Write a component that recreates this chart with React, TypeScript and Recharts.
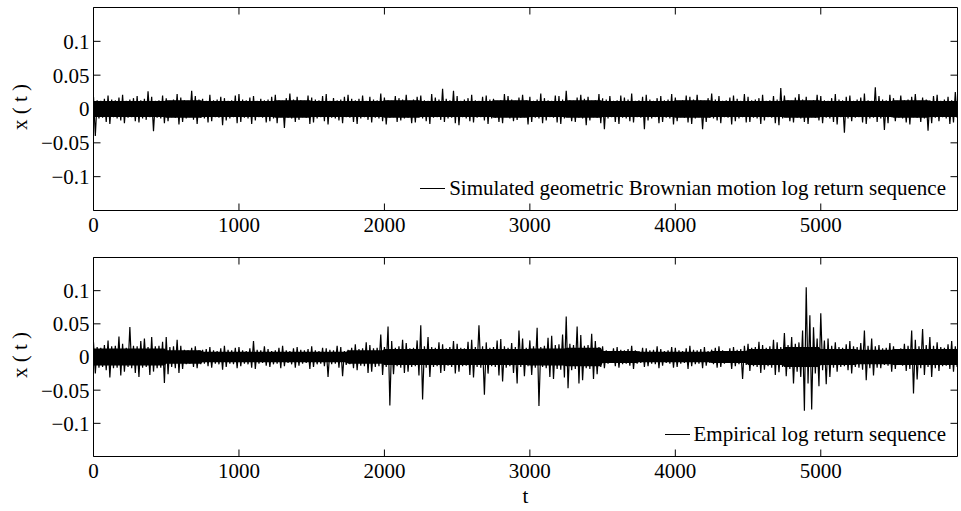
import { ComposedChart, Line, Area, XAxis, YAxis, ReferenceArea } from 'recharts';

// values in thousandths (per mille); one hi/lo pair per 25-step bin
const BIN = 25;
// dense-core half-width is read per 250-step block
const BLOCK = 250;

const X_TICKS = [0, 1000, 2000, 3000, 4000, 5000];
const Y_TICKS = [-0.1, -0.05, 0, 0.05, 0.1];
const X_MAX = 5940;

// simulated GBM log returns
const gbmHi = [
  18, 13, 12, 15, 20, 14, 13, 17, 21, 12, 14, 16, 19, 13, 15, 26, 18, 12, 13, 20,
  16, 12, 14, 22, 17, 13, 12, 27, 19, 14, 15, 12, 21, 13, 14, 18, 16, 12, 13, 20,
  22, 14, 13, 17, 19, 12, 15, 13, 14, 18, 21, 13, 12, 16, 23, 14, 18, 13, 12, 20,
  17, 14, 13, 19, 22, 12, 16, 13, 14, 18, 21, 15, 13, 15, 20, 12, 18, 14, 13, 23,
  17, 13, 12, 19, 16, 14, 21, 12, 14, 18, 20, 13, 12, 22, 17, 14, 30, 15, 13, 27,
  19, 12, 14, 16, 21, 13, 12, 18, 20, 14, 15, 12, 13, 22, 19, 14, 12, 17, 21, 13,
  18, 12, 14, 23, 16, 13, 12, 20, 19, 14, 27, 13, 12, 17, 21, 15, 18, 12, 13, 22,
  16, 14, 19, 12, 13, 20, 17, 14, 23, 12, 13, 18, 21, 14, 12, 16, 19, 13, 14, 22,
  17, 12, 13, 20, 18, 14, 21, 13, 12, 16, 23, 14, 19, 12, 13, 17, 20, 15, 12, 22,
  18, 13, 14, 16, 21, 12, 13, 19, 14, 31, 20, 13, 12, 17, 22, 14, 18, 12, 13, 21,
  19, 13, 12, 16, 22, 14, 13, 18, 20, 12, 14, 17, 23, 13, 12, 32, 19, 14, 13, 21,
  16, 12, 20, 13, 14, 18, 22, 12, 17, 14, 13, 19, 21, 12, 14, 18, 13, 25, 20, 14,
];
const gbmLo = [
  -40, -14, -13, -19, -22, -12, -14, -17, -21, -13, -12, -18, -20, -14, -16, -12, -33, -13, -14, -21,
  -18, -12, -13, -23, -19, -14, -12, -16, -22, -13, -14, -20, -18, -12, -13, -24, -17, -14, -12, -21,
  -19, -13, -14, -22, -17, -12, -13, -20, -18, -14, -21, -12, -28, -13, -14, -19, -16, -12, -13, -22,
  -20, -14, -12, -18, -23, -13, -14, -17, -21, -12, -13, -19, -22, -14, -12, -16, -20, -13, -14, -18,
  -23, -13, -12, -19, -17, -14, -13, -21, -20, -12, -14, -18, -22, -13, -12, -16, -19, -14, -13, -21,
  -24, -12, -14, -18, -20, -13, -12, -17, -22, -14, -13, -19, -21, -12, -14, -18, -16, -13, -12, -23,
  -19, -13, -14, -21, -17, -12, -13, -20, -22, -14, -12, -18, -19, -13, -14, -24, -17, -12, -13, -21,
  -30, -14, -12, -19, -22, -13, -14, -18, -20, -12, -13, -30, -17, -14, -12, -21, -19, -13, -14, -23,
  -18, -12, -13, -20, -22, -14, -12, -30, -19, -13, -14, -17, -21, -12, -13, -23, -18, -14, -12, -20,
  -19, -13, -14, -22, -17, -12, -13, -21, -24, -14, -12, -18, -20, -13, -14, -19, -22, -12, -13, -17,
  -21, -13, -14, -19, -23, -12, -35, -14, -18, -13, -12, -20, -22, -14, -13, -19, -14, -31, -21, -12,
  -18, -13, -14, -20, -23, -12, -13, -19, -14, -32, -21, -13, -18, -12, -14, -22, -20, -13, -12, -19,
];
const gbmCore = [12, 12, 13, 12, 12, 13, 12, 12, 13, 12, 12, 13, 12, 13, 12, 12, 13, 12, 12, 13, 12, 12, 13, 12];

// empirical log returns
const empHi = [
  22, 15, 14, 18, 25, 16, 17, 31, 20, 14, 45, 17, 16, 24, 28, 15, 30, 16, 17, 23,
  30, 15, 16, 26, 17, 11, 10, 14, 16, 10, 11, 12, 15, 10, 9, 13, 17, 11, 10, 14,
  15, 10, 9, 13, 24, 11, 10, 16, 12, 9, 10, 14, 17, 10, 9, 13, 15, 11, 10, 12,
  16, 10, 9, 14, 13, 11, 10, 17, 15, 9, 11, 14, 19, 12, 13, 22, 18, 13, 14, 34,
  15, 46, 24, 14, 16, 26, 21, 13, 14, 25, 48, 16, 30, 15, 14, 22, 19, 13, 15, 24,
  20, 14, 13, 23, 26, 15, 48, 16, 22, 14, 15, 25, 27, 16, 14, 21, 15, 40, 28, 14,
  25, 16, 44, 15, 17, 29, 32, 18, 19, 34, 61, 20, 18, 46, 33, 17, 18, 35, 24, 15,
  16, 10, 9, 13, 15, 11, 10, 12, 17, 10, 9, 14, 13, 10, 11, 16, 12, 9, 10, 15,
  14, 10, 9, 13, 17, 11, 10, 12, 15, 9, 11, 14, 16, 10, 9, 13, 15, 11, 12, 17,
  20, 14, 15, 23, 18, 14, 16, 26, 22, 15, 36, 18, 30, 20, 22, 40, 105, 63, 45, 28,
  66, 25, 28, 17, 22, 15, 14, 19, 24, 16, 15, 21, 40, 17, 28, 16, 18, 13, 14, 21,
  16, 12, 13, 20, 17, 40, 26, 16, 42, 18, 30, 17, 22, 15, 14, 19, 24, 16, 15, 20,
];
const empLo = [
  -25, -16, -15, -20, -31, -17, -16, -28, -22, -15, -17, -24, -30, -16, -15, -27, -22, -17, -16, -39,
  -26, -15, -17, -24, -18, -11, -10, -15, -17, -11, -10, -14, -16, -10, -11, -19, -15, -10, -11, -17,
  -14, -10, -11, -16, -18, -10, -9, -13, -15, -11, -10, -17, -14, -9, -11, -16, -13, -10, -9, -18,
  -15, -11, -10, -14, -30, -11, -10, -16, -29, -12, -11, -17, -20, -13, -14, -24, -22, -15, -14, -27,
  -15, -73, -26, -14, -16, -24, -22, -15, -14, -28, -64, -16, -30, -15, -14, -24, -21, -13, -15, -25,
  -22, -14, -13, -27, -31, -15, -16, -57, -25, -14, -15, -28, -37, -16, -14, -24, -40, -15, -29, -14,
  -27, -16, -74, -15, -17, -30, -33, -18, -19, -31, -47, -20, -18, -40, -35, -17, -18, -33, -26, -15,
  -17, -10, -9, -14, -16, -11, -10, -13, -18, -10, -9, -15, -14, -10, -11, -17, -13, -9, -10, -16,
  -15, -10, -9, -18, -14, -11, -10, -17, -13, -9, -11, -16, -15, -10, -9, -18, -14, -11, -33, -12,
  -21, -14, -15, -24, -19, -14, -16, -27, -23, -15, -29, -18, -40, -22, -30, -81, -40, -79, -25, -44,
  -20, -41, -30, -16, -22, -15, -14, -20, -25, -15, -16, -19, -35, -17, -28, -16, -17, -12, -13, -22,
  -18, -12, -13, -21, -18, -55, -34, -17, -27, -15, -30, -17, -21, -14, -13, -18, -22, -15, -14, -20,
];
const empCore = [13, 13, 10, 8, 8, 8, 8, 10, 12, 12, 12, 12, 13, 14, 9, 8, 8, 9, 12, 15, 12, 11, 12, 12];

const FONT = "'Liberation Serif', 'Times New Roman', serif";
const FS = 21;
const PLOT_TOP = 7.5;
const PLOT_LEFT = 93.5;
const PLOT_RIGHT = 957.5;
const TICK_LEN = 7;

type Row = { t: number; v: number; core: number[] };

function buildSeries(hi: number[], lo: number[], core: number[]) {
  const rows: Row[] = [];
  hi.forEach((h, i) => {
    const t0 = i * BIN;
    const c = core[Math.min(core.length - 1, Math.floor(t0 / BLOCK))] / 1000;
    rows.push({ t: t0, v: h / 1000, core: [-c, c] });
    rows.push({ t: t0 + BIN / 2, v: lo[i] / 1000, core: [-c, c] });
  });
  return rows;
}

const fmtY = (v: number) => (v < 0 ? '\u2212' + String(Math.abs(v)) : String(v));

const XTick = ({ x, y, payload }: any) => {
  const base = y - 7;
  return (
    <g>
      <line x1={x} x2={x} y1={base} y2={base - TICK_LEN} stroke="#000" strokeWidth={1} />
      <line x1={x} x2={x} y1={PLOT_TOP} y2={PLOT_TOP + TICK_LEN} stroke="#000" strokeWidth={1} />
      <text x={x} y={y} dy="0.71em" textAnchor="middle" fontFamily={FONT} fontSize={FS} fill="#000">
        {payload.value}
      </text>
    </g>
  );
};

const YTick = ({ x, y, payload }: any) => (
  <g>
    <line x1={PLOT_LEFT} x2={PLOT_LEFT + TICK_LEN} y1={y} y2={y} stroke="#000" strokeWidth={1} />
    <line x1={PLOT_RIGHT} x2={PLOT_RIGHT - TICK_LEN} y1={y} y2={y} stroke="#000" strokeWidth={1} />
    <text x={x} y={y} dy="0.355em" textAnchor="end" fontFamily={FONT} fontSize={FS} fill="#000">
      {fmtY(payload.value)}
    </text>
  </g>
);

interface PanelProps {
  data: Row[];
  top: number;
  height: number;
  plotHeight: number;
  legend: string;
  showT: boolean;
}

function Panel({ data, top, height, plotHeight, legend, showT }: PanelProps) {
  const axisHeight = height - PLOT_TOP - plotHeight;
  const plotBottom = PLOT_TOP + plotHeight;
  return (
    <div style={{ position: 'absolute', left: 0, top, width: 961, height }}>
      <ComposedChart
        width={961}
        height={height}
        data={data}
        margin={{ top: PLOT_TOP, right: 961 - PLOT_RIGHT, bottom: 0, left: 0.5 }}
      >
        <XAxis
          dataKey="t"
          type="number"
          domain={[0, X_MAX]}
          ticks={X_TICKS}
          interval={0}
          allowDataOverflow
          axisLine={false}
          tickLine={false}
          tickSize={0}
          tickMargin={7}
          height={axisHeight}
          tick={(p: any) => <XTick {...p} />}
          label={
            showT
              ? {
                  value: 't',
                  content: ({ viewBox }: any) => (
                    <text
                      x={(viewBox?.x ?? PLOT_LEFT) + (viewBox?.width ?? PLOT_RIGHT - PLOT_LEFT) / 2}
                      y={(viewBox?.y ?? plotBottom) + 46}
                      textAnchor="middle"
                      fontFamily={FONT}
                      fontSize={FS}
                      fill="#000"
                    >
                      t
                    </text>
                  ),
                }
              : undefined
          }
        />
        <YAxis
          type="number"
          domain={[-0.15, 0.15]}
          ticks={Y_TICKS}
          interval={0}
          allowDataOverflow
          axisLine={false}
          tickLine={false}
          tickSize={0}
          tickMargin={4}
          width={93}
          tick={(p: any) => <YTick {...p} />}
          label={{
            value: 'x ( t )',
            content: ({ viewBox }: any) => {
              const cy = (viewBox?.y ?? PLOT_TOP) + (viewBox?.height ?? plotHeight) / 2 - 2;
              return (
                <text
                  x={20}
                  y={cy}
                  transform={`rotate(-90, 20, ${cy})`}
                  textAnchor="middle"
                  dominantBaseline="central"
                  fontFamily={FONT}
                  fontSize={FS}
                  fill="#000"
                >
                  x ( t )
                </text>
              );
            },
          }}
        />
        <Area
          dataKey="core"
          type="linear"
          stroke="none"
          fill="#000"
          fillOpacity={1}
          dot={false}
          activeDot={false}
          isAnimationActive={false}
        />
        <Line
          dataKey="v"
          type="linear"
          stroke="#000"
          strokeWidth={1.2}
          dot={false}
          activeDot={false}
          isAnimationActive={false}
        />
        <ReferenceArea
          x1={0}
          x2={X_MAX}
          y1={-0.15}
          y2={0.15}
          fill="none"
          fillOpacity={0}
          stroke="#000"
          strokeWidth={1}
          ifOverflow="visible"
        />
      </ComposedChart>
      <div
        style={{
          position: 'absolute',
          right: 15,
          top: plotBottom - 33,
          display: 'flex',
          alignItems: 'center',
          fontFamily: FONT,
          fontSize: FS,
          lineHeight: 1,
          color: '#000',
          whiteSpace: 'nowrap',
        }}
      >
        <div style={{ width: 25, borderTop: '1px solid #000', marginRight: 4 }} />
        <span>{legend}</span>
      </div>
    </div>
  );
}

export default function App() {
  const gbmData = buildSeries(gbmHi, gbmLo, gbmCore);
  const empData = buildSeries(empHi, empLo, empCore);
  return (
    <div style={{ position: 'absolute', left: 0, top: 0, width: 961, height: 511, background: '#fff' }}>
      <Panel
        data={gbmData}
        top={0}
        height={250}
        plotHeight={203}
        legend="Simulated geometric Brownian motion log return sequence"
        showT={false}
      />
      <Panel
        data={empData}
        top={250}
        height={261}
        plotHeight={199}
        legend="Empirical log return sequence"
        showT
      />
    </div>
  );
}
